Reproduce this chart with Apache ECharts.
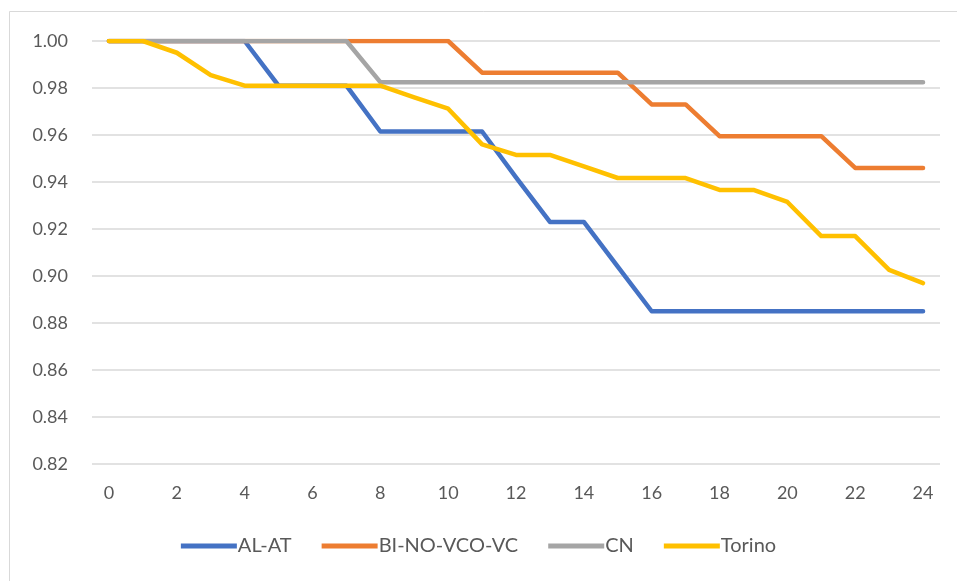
<!DOCTYPE html>
<html>
<head>
<meta charset="utf-8">
<script src="https://cdn.jsdelivr.net/npm/echarts@6/dist/echarts.min.js"></script>
<style>
  html, body { margin: 0; padding: 0; background: #fff; }
  #chart { width: 957px; height: 581px; }
</style>
</head>
<body>
<div id="chart"></div>
<script>
// x categories (0..24) and the four series
const steps = ['0','1','2','3','4','5','6','7','8','9','10','11','12','13','14','15','16','17','18','19','20','21','22','23','24']

const alAt = [1, 1, 1, 1, 1, 0.981, 0.981, 0.981, 0.9615, 0.9615, 0.9615, 0.9615, 0.942, 0.923, 0.923, 0.904,
  0.885, 0.885, 0.885, 0.885, 0.885, 0.885, 0.885, 0.885, 0.885]
const biNo = [1, 1, 1, 1, 1, 1, 1, 1, 1, 1, 1, 0.9865, 0.9865, 0.9865, 0.9865, 0.9865,
  0.973, 0.973, 0.9595, 0.9595, 0.9595, 0.9595, 0.946, 0.946, 0.946]
const cn = [1, 1, 1, 1, 1, 1, 1, 1, 0.9825, 0.9825, 0.9825, 0.9825, 0.9825, 0.9825, 0.9825, 0.9825,
  0.9825, 0.9825, 0.9825, 0.9825, 0.9825, 0.9825, 0.9825, 0.9825, 0.9825]
const torino = [1, 1, 0.995, 0.9855, 0.981, 0.981, 0.981, 0.981, 0.981, 0.976, 0.9712, 0.956, 0.9515, 0.9515, 0.9466, 0.9417,
  0.9417, 0.9417, 0.9366, 0.9366, 0.9315, 0.917, 0.917, 0.9026, 0.897]

const textColor = '#595959'
const font = 'Lato, "Open Sans", sans-serif'

const chart = echarts.init(document.getElementById('chart'))

function line(name, data, color) {
  return {
    name, type: 'line', data, symbol: 'none',
    lineStyle: { color, width: 4.5, cap: 'round', join: 'round' },
    itemStyle: { color },
    z: 2,
  }
}

chart.setOption({
  backgroundColor: '#fff',
  animation: false,
  textStyle: { fontFamily: font },
  grid: { left: 92, right: 17, top: 41, bottom: 117 },
  legend: {
    bottom: 20,
    left: 'center',
    itemWidth: 56,
    itemHeight: 5,
    itemGap: 30,
    textStyle: { color: textColor, fontSize: 20, fontFamily: font, padding: [0, 0, 0, -4] },
    icon: 'rect',
    data: ['AL-AT', 'BI-NO-VCO-VC', 'CN', 'Torino'],
  },
  xAxis: {
    type: 'category',
    data: steps,
    boundaryGap: true,
    axisLine: { show: false },
    axisTick: { show: false },
    axisLabel: { color: textColor, fontSize: 18, interval: 1, margin: 20 },
  },
  yAxis: {
    type: 'value',
    min: 0.82,
    max: 1.0,
    interval: 0.02,
    axisLine: { show: false },
    axisTick: { show: false },
    axisLabel: { color: textColor, fontSize: 18, margin: 24, formatter: (v) => v.toFixed(2) },
    splitLine: { lineStyle: { color: '#d9d9d9', width: 1.5 } },
  },
  graphic: [{
    type: 'rect',
    shape: { x: 9.5, y: 11.5, width: 960, height: 580 },
    style: { fill: 'none', stroke: '#d9d9d9', lineWidth: 1 },
    silent: true,
  }],
  series: [
    line('AL-AT', alAt, '#4472C4'),
    line('BI-NO-VCO-VC', biNo, '#ED7D31'),
    line('CN', cn, '#A5A5A5'),
    line('Torino', torino, '#FFC000'),
  ],
})
</script>
</body>
</html>
